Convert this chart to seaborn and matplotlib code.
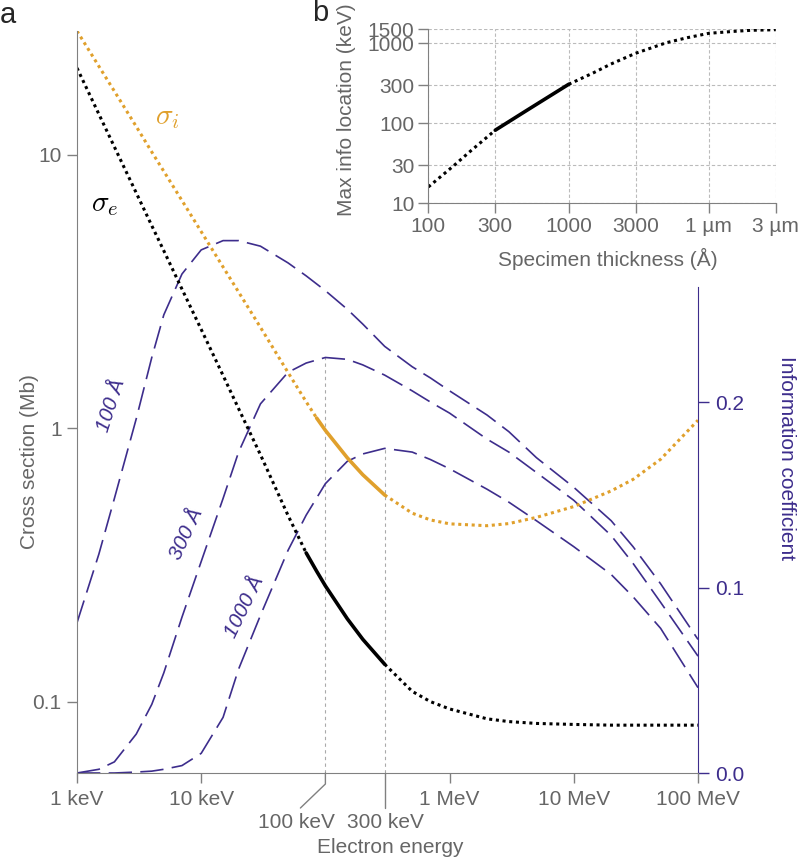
import numpy as np
import pandas as pd
import matplotlib
matplotlib.use("Agg")
import matplotlib.pyplot as plt
from matplotlib.lines import Line2D
from matplotlib.ticker import NullLocator
from matplotlib.transforms import IdentityTransform
import seaborn as sns

# ---- panel a: cross sections (Mb) vs electron energy (keV) ----
energy_sigma = [1, 1.5, 2, 3, 4, 5, 7, 10, 15, 20, 30, 50, 70, 85, 100, 150, 200, 300,
                500, 700, 1000, 2000, 3000, 5000, 10000, 20000, 30000, 50000, 100000]
sigma_i = [28.4, 21.1, 17.1, 12.7, 10.25, 8.71, 6.81, 5.24, 3.89, 3.15, 2.34, 1.60, 1.25,
           1.09, 0.982, 0.780, 0.676, 0.570,
           0.489, 0.462, 0.447, 0.440, 0.448, 0.472, 0.517, 0.590, 0.650, 0.77, 1.07]
sigma_e = [20.8, 14.1, 10.7, 7.26, 5.51, 4.46, 3.23, 2.30, 1.56, 1.18, 0.80, 0.48, 0.350,
           0.300, 0.265, 0.201, 0.169, 0.137,
           0.109, 0.100, 0.094, 0.0865, 0.0845, 0.0832, 0.0825, 0.082, 0.082, 0.082, 0.082]
solid_e = (70, 300)    # keV range drawn solid for sigma_e
solid_i = (85, 300)    # keV range drawn solid for sigma_i

# ---- panel a: information coefficient per specimen thickness ----
energy_info = [1, 1.5, 2, 3, 4, 5, 7, 10, 15, 20, 30, 50, 70, 100, 150, 200, 300,
               500, 700, 1000, 2000, 3000, 5000, 10000, 20000, 30000, 50000, 100000]
info_100 = [0.081, 0.118, 0.148, 0.191, 0.224, 0.247, 0.269, 0.282, 0.287, 0.287, 0.284,
            0.275, 0.268, 0.260, 0.250, 0.242, 0.230,
            0.219, 0.213, 0.206, 0.193, 0.184, 0.170, 0.154, 0.136, 0.122, 0.102, 0.072]
info_300 = [0.0, 0.002, 0.006, 0.021, 0.037, 0.054, 0.084, 0.114, 0.148, 0.173, 0.199,
            0.216, 0.221, 0.224, 0.223, 0.220, 0.2145,
            0.206, 0.200, 0.194, 0.180, 0.173, 0.162, 0.147, 0.128, 0.113, 0.092, 0.063]
info_1000 = [0.0, 0.0, 0.0, 0.0005, 0.001, 0.002, 0.004, 0.0106, 0.030, 0.056, 0.085,
             0.120, 0.139, 0.156, 0.168, 0.172, 0.175,
             0.173, 0.169, 0.164, 0.153, 0.146, 0.136, 0.122, 0.107, 0.095, 0.078, 0.046]
thickness_labels = ["100 Å", "300 Å", "1000 Å"]

xticks_main = [1, 10, 1000, 10000, 100000]
xticklabels_main = ["1 keV", "10 keV", "1 MeV", "10 MeV", "100 MeV"]
offset_ticks = [100, 300]
offset_labels = ["100 keV", "300 keV"]

# ---- panel b: energy of max information vs thickness ----
thickness = [100, 150, 200, 300, 500, 700, 1000, 1500, 2000, 3000, 5000, 7000,
             10000, 15000, 20000, 30000]
max_info = [16, 29, 45, 82, 144, 208, 307, 427, 550, 750, 1020, 1175,
            1334, 1410, 1455, 1480]
solid_b = (300, 1000)
xticks_b = [100, 300, 1000, 3000, 10000, 30000]
xticklabels_b = ["100", "300", "1000", "3000", "1 µm", "3 µm"]
yticks_b = [10, 30, 100, 300, 1000, 1500]

PURPLE = "#3d2d8c"
ORANGE = "#e0a02c"
GRAY = "#666666"
SPINE = "#808080"
DOT = (0, (1, 1.2))
DASH = (0, (14, 5))

sns.set_style("ticks")
plt.rcParams["font.family"] = ["Liberation Sans", "DejaVu Sans"]
plt.rcParams["mathtext.fontset"] = "cm"
plt.rcParams["font.size"] = 15

fig = plt.figure(figsize=(8, 8.6), dpi=100)
ax = fig.add_axes([0.09625, 0.10116, 0.77625, 0.86279])
ax2 = ax.twinx()
ax.set_xscale("log")
ax.set_yscale("log")
ax.set_xlim(1, 100000)
ax.set_ylim(0.0548, 28.4)
ax2.set_ylim(0, 0.4)

sig = pd.DataFrame({"E": energy_sigma, "i": sigma_i, "e": sigma_e})


def draw_split(df, col, lo, hi, color, axis):
    low = df[df.E <= lo]
    mid = df[(df.E >= lo) & (df.E <= hi)]
    high = df[df.E >= hi]
    for part in (low, high):
        sns.lineplot(data=part, x="E", y=col, ax=axis, color=color, lw=2.2,
                     linestyle=DOT, estimator=None, sort=False, legend=False)
    sns.lineplot(data=mid, x="E", y=col, ax=axis, color=color, lw=2.6,
                 estimator=None, sort=False, legend=False)


draw_split(sig, "i", *solid_i, ORANGE, ax)
draw_split(sig, "e", *solid_e, "black", ax)

# information coefficient curves
info = pd.DataFrame({"E": energy_info, "100": info_100, "300": info_300, "1000": info_1000})
for col in ["100", "300", "1000"]:
    sns.lineplot(data=info, x="E", y=col, ax=ax2, color=PURPLE, lw=1.2,
                 linestyle=DASH, estimator=None, sort=False, legend=False)

# guides from the axis up to the curve maxima
ax2.vlines(offset_ticks[0], 0, info_300[energy_info.index(offset_ticks[0])],
           color="#aaaaaa", lw=0.8, ls=(0, (3, 3)), zorder=0)
ax2.vlines(offset_ticks[1], 0, info_1000[energy_info.index(offset_ticks[1])],
           color="#aaaaaa", lw=0.8, ls=(0, (3, 3)), zorder=0)

ax.set_zorder(ax2.get_zorder() + 1)
ax.patch.set_visible(False)

# curve labels
ax.text(5.3, 13.8, r"$\sigma_i$", color=ORANGE, fontsize=21, ha="center", va="center")
ax.text(1.68, 6.6, r"$\sigma_e$", color="black", fontsize=21, ha="center", va="center")
for (xe, yv, rot), lab in zip([(1.90, 0.198, 72), (7.64, 0.129, 65), (22.5, 0.0896, 64)],
                              thickness_labels):
    ax2.text(xe, yv, lab, color=PURPLE, fontsize=15, style="italic", rotation=rot,
             ha="center", va="center")

# axes styling
for s in ["top", "right"]:
    ax.spines[s].set_visible(False)
for s in ["top", "left", "bottom"]:
    ax2.spines[s].set_visible(False)
ax.spines["left"].set_color(SPINE)
ax.spines["bottom"].set_color(SPINE)
ax2.spines["right"].set_color(PURPLE)
ax2.spines["right"].set_bounds(0, 0.262)

ax.set_xticks(xticks_main)
ax.set_xticklabels(xticklabels_main)
ax.set_yticks([0.1, 1, 10])
ax.set_yticklabels(["0.1", "1", "10"])
ax.xaxis.set_minor_locator(NullLocator())
ax.yaxis.set_minor_locator(NullLocator())
ax2.set_yticks([0, 0.1, 0.2])
ax2.set_yticklabels(["0.0", "0.1", "0.2"])
ax.tick_params(axis="both", colors=SPINE, labelcolor=GRAY, length=7, width=1,
               labelsize=15, direction="out")
ax.tick_params(axis="x", pad=5)
ax.tick_params(axis="y", pad=4)
ax2.tick_params(axis="y", colors=PURPLE, labelcolor=PURPLE, length=8, width=1,
                labelsize=15, pad=4)

ax.set_xlabel("Electron energy", color=GRAY, fontsize=15, va="center")
ax.xaxis.set_label_coords(0.504, -0.101)
ax.set_ylabel("Cross section (Mb)", color=GRAY, fontsize=15, va="center")
ax.yaxis.set_label_coords(-0.0757, 0.42)
ax2.set_ylabel("Information coefficient", color=PURPLE, fontsize=15,
               rotation=270, va="center")
ax2.yaxis.set_label_coords(1.143, 0.425)

# leader lines for the 100 keV / 300 keV ticks (display pixels)
ident = IdentityTransform()
y0 = ax.transAxes.transform((0, 0))[1]
for e, lab, dx in zip(offset_ticks, offset_labels, [-25, 0]):
    xp = ax.transData.transform((e, 1))[0]
    fig.add_artist(Line2D([xp, xp, xp + dx], [y0, y0 - 11, y0 - 35],
                          transform=ident, color=SPINE, lw=1))
    fig.text(xp + dx - (4 if dx else -1), y0 - 49, lab, transform=ident,
             ha="center", va="center", color=GRAY, fontsize=15)

# ---- panel b inset ----
axin = fig.add_axes([0.5354, 0.7636, 0.4343, 0.2024])
axin.set_xscale("log")
axin.set_yscale("log")
axin.set_xlim(100, 30000)
axin.set_ylim(10, 1500)
mi = pd.DataFrame({"t": thickness, "E": max_info})
lo_b, hi_b = solid_b
for part in (mi[mi.t <= lo_b], mi[mi.t >= hi_b]):
    sns.lineplot(data=part, x="t", y="E", ax=axin, color="black", lw=2.2,
                 linestyle=DOT, estimator=None, sort=False, legend=False)
sns.lineplot(data=mi[(mi.t >= lo_b) & (mi.t <= hi_b)], x="t", y="E", ax=axin,
             color="black", lw=2.6, estimator=None, sort=False, legend=False)
axin.set_xticks(xticks_b)
axin.set_xticklabels(xticklabels_b)
axin.set_yticks(yticks_b)
axin.set_yticklabels([str(v) for v in yticks_b])
axin.xaxis.set_minor_locator(NullLocator())
axin.yaxis.set_minor_locator(NullLocator())
axin.grid(True, which="major", color="#bbbbbb", ls=(0, (3, 2)), lw=0.8)
axin.patch.set_alpha(0)
for s in ["top", "right"]:
    axin.spines[s].set_visible(False)
axin.spines["left"].set_color(SPINE)
axin.spines["bottom"].set_color(SPINE)
axin.tick_params(axis="both", colors=SPINE, labelcolor=GRAY, length=7, width=1,
                 labelsize=15, pad=3)
axin.set_xlabel("Specimen thickness (Å)", color=GRAY, fontsize=15, va="center")
axin.xaxis.set_label_coords(0.517, -0.32)
axin.set_ylabel("Max info location (keV)", color=GRAY, fontsize=15, va="center")
axin.yaxis.set_label_coords(-0.235, 0.536)

fig.text(7.5 / 800, 1 - 15 / 860, "a", fontsize=21, ha="center", va="center")
fig.text(320.5 / 800, 1 - 13 / 860, "b", fontsize=21, ha="center", va="center")

fig.savefig("out.png", dpi=100)
